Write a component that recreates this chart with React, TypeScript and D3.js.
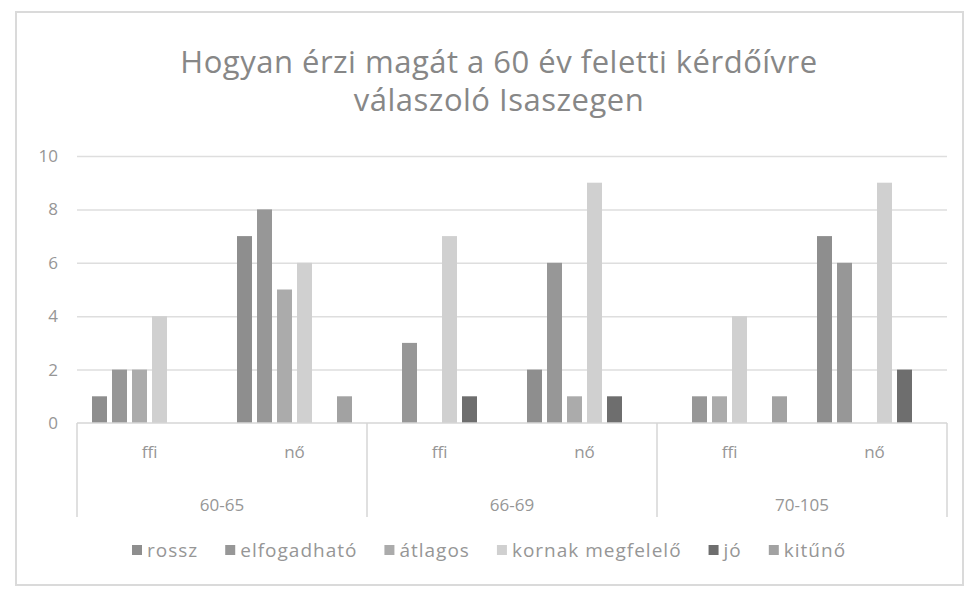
import React, { useRef, useEffect } from 'react';
import * as d3 from 'd3';

// Chart data
const groups = ['60-65', '66-69', '70-105'];
const genders = ['ffi', 'nő'];
const seriesNames = ['rossz', 'elfogadható', 'átlagos', 'kornak megfelelő', 'jó', 'kitűnő'];
const seriesColors = ['#8e8e8e', '#979797', '#ababab', '#d0d0d0', '#6e6e6e', '#a2a2a2'];
// one value per category: 60-65 ffi, 60-65 nő, 66-69 ffi, 66-69 nő, 70-105 ffi, 70-105 nő
const rossz = [1, 7, 0, 2, 0, 7];
const elfogadhato = [2, 8, 3, 6, 1, 6];
const atlagos = [2, 5, 0, 1, 1, 0];
const kornakMegfelelo = [4, 6, 7, 9, 4, 9];
const jo = [0, 0, 1, 1, 0, 2];
const kituno = [0, 1, 0, 0, 1, 0];
const yTicks = [0, 2, 4, 6, 8, 10];
const titleLines = ['Hogyan érzi magát a 60 év feletti kérdőívre', 'válaszoló Isaszegen'];

const W = 967;
const H = 589;

export default function App() {
  const svgRef = useRef<SVGSVGElement>(null);

  useEffect(() => {
    if (!svgRef.current) return;
    const svg = d3.select(svgRef.current);
    svg.selectAll('*').remove();

    const allSeries = [rossz, elfogadhato, atlagos, kornakMegfelelo, jo, kituno];
    const cats = groups.flatMap(g => genders.map(s => `${g}|${s}`));

    const left = 77, right = 947, top = 156, bottom = 423;
    const font = "'Open Sans', sans-serif";
    const textColor = '#969696';

    // outer chart frame
    svg.append('rect')
      .attr('x', 16).attr('y', 12)
      .attr('width', 947).attr('height', 573)
      .attr('fill', '#fff')
      .attr('stroke', '#dadada')
      .attr('stroke-width', 2);

    // title
    svg.append('g')
      .selectAll('text')
      .data(titleLines)
      .enter()
      .append('text')
      .attr('x', 499)
      .attr('y', (d, i) => 73 + i * 38)
      .attr('text-anchor', 'middle')
      .attr('font-family', font)
      .attr('font-size', 31)
      .attr('letter-spacing', 0.5)
      .attr('fill', '#878787')
      .text(d => d);

    const x0 = d3.scaleBand<string>().domain(cats).range([left, right]);
    const x1 = d3.scaleBand<number>()
      .domain(d3.range(seriesNames.length))
      .range([0, x0.bandwidth()])
      .paddingInner(0.25)
      .paddingOuter(0.75);
    const y = d3.scaleLinear().domain([0, 10]).range([bottom, top]);

    // gridlines
    svg.append('g')
      .attr('transform', `translate(${left},0)`)
      .call(d3.axisLeft(y).tickValues(yTicks.slice(1)).tickSize(-(right - left)).tickFormat(() => ''))
      .call(g => g.select('.domain').remove())
      .call(g => g.selectAll('line').attr('stroke', '#dedede').attr('stroke-width', 1.5));

    // y labels
    svg.append('g')
      .selectAll('text')
      .data(yTicks)
      .enter()
      .append('text')
      .attr('x', 58)
      .attr('y', d => y(d))
      .attr('dy', '0.35em')
      .attr('text-anchor', 'end')
      .attr('font-family', font)
      .attr('font-size', 17)
      .attr('fill', textColor)
      .text(d => d);

    // bars
    const catG = svg.append('g')
      .selectAll('g')
      .data(cats)
      .enter()
      .append('g')
      .attr('transform', d => `translate(${x0(d)},0)`);

    catG.selectAll('rect')
      .data((_, ci) => allSeries.map((s, si) => ({ si, v: s[ci] })))
      .enter()
      .append('rect')
      .attr('x', d => x1(d.si) || 0)
      .attr('width', x1.bandwidth())
      .attr('y', d => y(d.v))
      .attr('height', d => y(0) - y(d.v))
      .attr('fill', d => seriesColors[d.si]);

    // category axis baseline + group dividers
    svg.append('line')
      .attr('x1', left).attr('x2', right)
      .attr('y1', bottom).attr('y2', bottom)
      .attr('stroke', '#d6d6d6').attr('stroke-width', 1.5);

    const groupW = (right - left) / groups.length;
    svg.append('g')
      .selectAll('line')
      .data(d3.range(groups.length + 1))
      .enter()
      .append('line')
      .attr('x1', i => left + i * groupW).attr('x2', i => left + i * groupW)
      .attr('y1', bottom).attr('y2', 517)
      .attr('stroke', '#d6d6d6').attr('stroke-width', 1.5);

    // inner labels (ffi / nő)
    svg.append('g')
      .selectAll('text')
      .data(cats)
      .enter()
      .append('text')
      .attr('x', d => (x0(d) || 0) + x0.bandwidth() / 2)
      .attr('y', 458)
      .attr('text-anchor', 'middle')
      .attr('font-family', font)
      .attr('font-size', 17)
      .attr('fill', textColor)
      .text(d => d.split('|')[1]);

    // outer labels (age groups)
    svg.append('g')
      .selectAll('text')
      .data(groups)
      .enter()
      .append('text')
      .attr('x', (d, i) => left + (i + 0.5) * groupW)
      .attr('y', 511)
      .attr('text-anchor', 'middle')
      .attr('font-family', font)
      .attr('font-size', 17)
      .attr('fill', textColor)
      .text(d => d);

    // legend
    const legend = svg.append('g').attr('transform', 'translate(0,550)');
    let lx = 132;
    seriesNames.forEach((name, i) => {
      const item = legend.append('g').attr('transform', `translate(${lx},0)`);
      item.append('rect')
        .attr('x', 0).attr('y', -5)
        .attr('width', 10).attr('height', 10)
        .attr('fill', seriesColors[i]);
      const t = item.append('text')
        .attr('x', 15)
        .attr('dy', '0.35em')
        .attr('font-family', font)
        .attr('font-size', 19)
        .attr('letter-spacing', 1)
        .attr('fill', textColor)
        .text(name);
      const tw = (t.node() as SVGTextElement).getComputedTextLength();
      lx += 15 + tw + 27;
    });
  }, []);

  return (
    <svg
      ref={svgRef}
      width={W}
      height={H}
      style={{ position: 'absolute', left: 0, top: 0, background: '#fff' }}
    />
  );
}
